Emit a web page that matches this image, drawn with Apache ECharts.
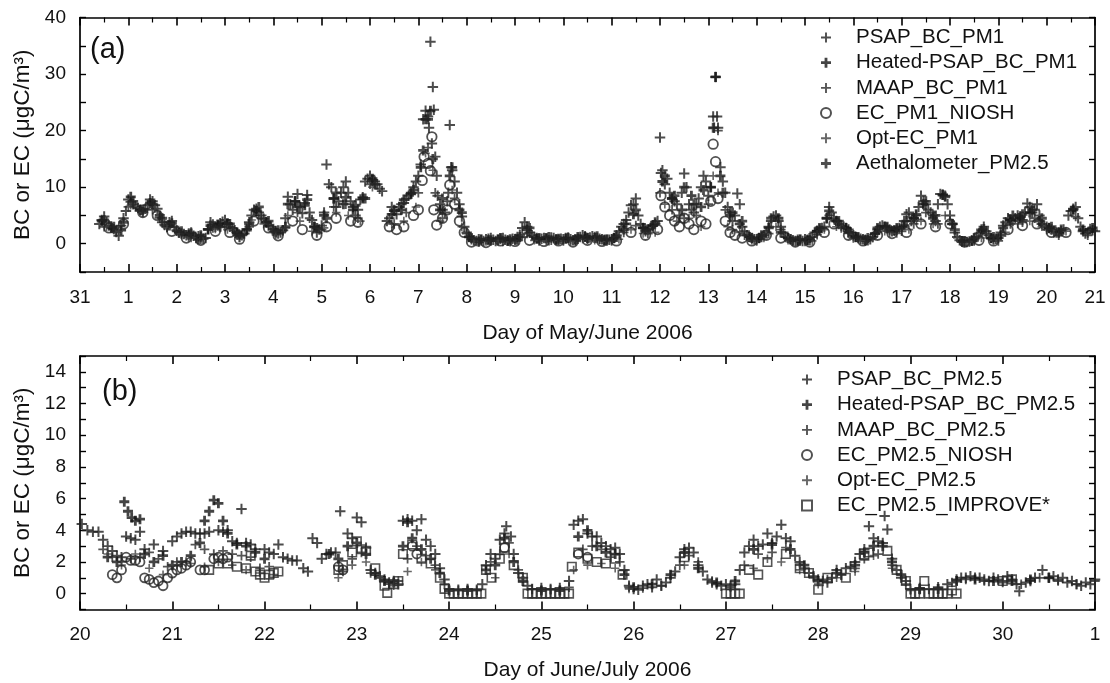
<!DOCTYPE html>
<html><head><meta charset="utf-8">
<script src="https://cdn.jsdelivr.net/npm/echarts@6/dist/echarts.min.js"></script>
<style>html,body{margin:0;padding:0;background:#fff}#c{width:1110px;height:683px}</style>
</head><body><div id="c"></div>
<script>
// ---------- Panel (a): days since May 31 (0 = May 31, 1 = June 1 ...) ----------
const xTicksA = ['31','1','2','3','4','5','6','7','8','9','10','11','12','13','14','15','16','17','18','19','20','21'];
const namesA = ['PSAP_BC_PM1','Heated-PSAP_BC_PM1','MAAP_BC_PM1','EC_PM1_NIOSH','Opt-EC_PM1','Aethalometer_PM2.5'];
const psapPM1 = [[0.4,3.5],[0.5,4.8],[0.6,3.2],[0.7,2.6],[0.8,1.4],[0.9,4.5],[1.0,7.8],[1.1,7.0],[1.2,6.3],[1.3,5.6],[1.4,6.8],[1.5,7.5],[1.6,6.2],[1.7,3.8],[1.8,3.0],[1.9,4.0],[2.0,2.4],[2.1,1.8],[2.2,1.5],[2.3,2.0],[2.4,1.0],[2.5,1.2],[2.6,1.0],[2.7,3.8],[2.8,3.0],[2.9,3.6],[3.0,4.2],[3.1,3.0],[3.2,2.4],[3.3,1.2],[3.4,1.8],[3.5,3.8],[3.6,6.0],[3.7,5.5],[3.8,4.4],[3.9,3.2],[4.0,2.6],[4.1,1.8],[4.2,2.4],[4.3,8.3],[4.4,6.0],[4.5,8.8],[4.6,5.4],[4.7,8.6],[4.8,4.2],[4.9,2.0],[5.0,3.2],[5.1,14.0],[5.2,10.0],[5.3,6.5],[5.4,9.0],[5.5,11.0],[5.6,7.5],[5.7,5.0],[5.8,7.8],[5.9,11.0],[6.0,12.0],[6.1,11.0],[6.2,9.7],[6.4,4.5],[6.5,5.8],[6.6,6.5],[6.7,7.2],[6.8,8.5],[6.9,10.0],[7.0,12.0],[7.1,22.0],[7.2,22.5],[7.25,35.7],[7.3,27.7],[7.35,15.4],[7.4,8.5],[7.5,6.0],[7.6,7.5],[7.65,21.0],[7.7,13.0],[7.8,9.0],[7.9,4.8],[8.0,2.0],[8.1,0.8],[8.2,0.5],[8.3,0.6],[8.4,0.8],[8.5,1.0],[8.6,0.5],[8.7,0.9],[8.8,0.7],[8.9,0.5],[9.0,0.8],[9.1,1.6],[9.2,3.8],[9.3,2.0],[9.4,1.2],[9.5,0.8],[9.6,1.0],[9.7,0.6],[9.8,1.0],[9.9,0.7],[10.0,0.8],[10.1,1.1],[10.2,0.6],[10.3,0.9],[10.4,1.5],[10.5,1.0],[10.6,1.3],[10.7,1.0],[10.8,0.8],[10.9,0.6],[11.0,0.8],[11.1,1.5],[11.2,3.0],[11.3,4.2],[11.4,6.8],[11.5,8.0],[11.6,3.5],[11.7,2.2],[11.8,2.8],[11.9,3.5],[12.0,18.8],[12.05,13.0],[12.1,10.5],[12.2,9.0],[12.3,7.5],[12.4,5.0],[12.5,12.4],[12.6,7.0],[12.7,5.5],[12.8,8.0],[12.9,12.0],[13.0,8.5],[13.1,22.5],[13.15,29.5],[13.2,20.5],[13.3,11.0],[13.4,6.5],[13.5,4.0],[13.6,8.9],[13.7,3.0],[13.8,1.5],[13.9,1.0],[14.0,0.8],[14.1,1.2],[14.2,2.0],[14.3,4.0],[14.4,5.0],[14.5,3.0],[14.6,1.2],[14.7,0.8],[14.8,0.5],[14.9,0.6],[15.0,0.8],[15.1,0.6],[15.2,2.0],[15.3,2.5],[15.4,3.0],[15.5,6.5],[15.6,4.5],[15.7,3.5],[15.8,3.0],[15.9,2.5],[16.0,1.5],[16.1,1.0],[16.2,0.8],[16.3,0.6],[16.4,1.2],[16.5,2.5],[16.6,3.2],[16.7,2.8],[16.8,2.2],[16.9,2.5],[17.0,3.0],[17.1,5.2],[17.2,4.0],[17.3,5.0],[17.4,8.5],[17.5,7.0],[17.6,5.5],[17.7,4.0],[17.8,8.8],[17.9,8.5],[18.0,5.0],[18.1,2.0],[18.2,0.6],[18.3,0.3],[18.4,0.4],[18.5,0.8],[18.6,1.8],[18.7,3.0],[18.8,1.5],[18.9,0.8],[19.0,1.0],[19.1,3.2],[19.2,4.5],[19.3,4.0],[19.4,5.0],[19.5,4.2],[19.6,7.1],[19.7,5.5],[19.8,7.0],[19.9,3.5],[20.0,3.0],[20.1,2.5],[20.2,2.0],[20.3,2.2],[20.5,5.8],[20.6,6.5],[20.7,3.0],[20.8,1.8],[20.9,2.6],[21.0,2.2]];
const psapPM1Half = [[0.45,4.2],[0.55,3.8],[0.65,3.0],[0.75,2.2],[0.85,3.2],[0.95,5.8],[1.05,7.4],[1.15,6.6],[1.25,6.0],[1.35,6.2],[1.45,7.8],[1.55,6.8],[1.65,4.6],[1.75,3.4],[1.85,3.8],[1.95,3.0],[2.05,2.0],[2.15,1.7],[2.25,1.8],[2.35,1.4],[2.45,1.3],[2.55,0.9],[2.65,2.6],[2.75,3.4],[2.85,3.2],[2.95,3.9],[3.05,3.5],[3.15,2.8],[3.25,1.8],[3.35,1.5],[3.45,2.6],[3.55,5.0],[3.65,6.2],[3.75,5.0],[3.85,3.8],[3.95,3.0],[4.05,2.2],[4.15,2.0],[4.25,4.5],[4.35,7.0],[4.45,7.5],[4.55,6.5],[4.65,7.2],[4.75,5.5],[4.85,3.0],[4.95,2.5],[5.05,5.5],[5.15,10.5],[5.25,8.0],[5.35,7.5],[5.45,10.0],[5.55,9.0],[5.65,6.5],[5.75,6.0],[5.85,8.2],[5.95,11.5],[6.05,11.2],[6.15,10.5],[6.25,9.3],[6.35,4.0],[6.45,6.5],[6.55,5.2],[6.65,7.0],[6.75,8.0],[6.85,9.0],[6.95,11.0],[7.05,14.0],[7.15,23.5],[7.22,20.5],[7.28,17.7],[7.32,23.7],[7.38,12.0],[7.45,7.0],[7.55,5.5],[7.62,9.0],[7.68,13.5],[7.75,11.0],[7.85,7.0],[7.95,3.0],[8.05,1.2],[8.15,0.6],[8.25,0.8],[8.35,0.5],[8.45,0.9],[8.55,0.7],[8.65,0.6],[8.75,1.0],[8.85,0.6],[8.95,0.9],[9.05,1.2],[9.15,2.8],[9.25,3.0],[9.35,1.5],[9.45,1.0],[9.55,0.9],[9.65,0.8],[9.75,1.1],[9.85,0.8],[9.95,0.9],[10.05,1.0],[10.15,0.8],[10.25,0.7],[10.35,1.2],[10.45,1.3],[10.55,1.1],[10.65,1.2],[10.75,0.9],[10.85,0.7],[10.95,0.7],[11.05,1.0],[11.15,2.2],[11.25,3.5],[11.35,5.5],[11.45,7.0],[11.55,5.0],[11.65,2.8],[11.75,2.5],[11.85,3.2],[11.95,4.0],[12.02,12.5],[12.15,11.5],[12.25,8.0],[12.35,7.0],[12.45,9.0],[12.55,10.0],[12.65,6.0],[12.75,7.0],[12.85,10.0],[12.95,11.0],[13.05,10.0],[13.12,20.5],[13.18,22.5],[13.25,13.5],[13.35,9.0],[13.45,5.5],[13.55,5.0],[13.65,7.0],[13.75,2.2],[13.85,1.2],[13.95,0.8],[14.05,1.0],[14.15,1.5],[14.25,3.0],[14.35,4.8],[14.45,4.0],[14.55,2.0],[14.65,1.0],[14.75,0.6],[14.85,0.7],[14.95,0.5],[15.05,0.7],[15.15,1.2],[15.25,2.3],[15.35,2.8],[15.45,4.5],[15.55,5.5],[15.65,4.0],[15.75,3.2],[15.85,2.8],[15.95,2.0],[16.05,1.2],[16.15,0.9],[16.25,0.7],[16.35,0.8],[16.45,1.8],[16.55,3.0],[16.65,3.0],[16.75,2.5],[16.85,2.3],[16.95,2.8],[17.05,4.0],[17.15,5.5],[17.25,4.5],[17.35,6.5],[17.45,7.5],[17.55,6.0],[17.65,5.0],[17.75,7.0],[17.85,8.7],[17.95,7.0],[18.05,3.5],[18.15,1.2],[18.25,0.4],[18.35,0.3],[18.45,0.6],[18.55,1.2],[18.65,2.5],[18.75,2.2],[18.85,1.0],[18.95,0.9],[19.05,2.0],[19.15,3.8],[19.25,4.2],[19.35,4.5],[19.45,4.8],[19.55,5.5],[19.65,6.5],[19.75,6.0],[19.85,5.0],[19.95,3.2],[20.05,2.8],[20.15,2.2],[20.25,2.0],[20.35,2.5],[20.45,5.0],[20.55,6.2],[20.65,4.5],[20.75,2.2],[20.85,2.0],[20.95,2.4]];
const heatedPM1 = [[0.45,4.0],[0.65,2.8],[0.85,2.4],[1.05,8.3],[1.25,6.0],[1.45,7.2],[1.65,5.0],[1.85,3.2],[2.05,2.0],[2.25,1.6],[2.45,0.8],[2.65,2.5],[2.85,3.4],[3.05,3.6],[3.25,2.0],[3.45,2.4],[3.65,5.8],[3.85,3.8],[4.05,2.0],[4.25,3.0],[4.45,7.5],[4.65,6.8],[4.85,3.0],[5.05,5.0],[5.25,8.0],[5.45,7.0],[5.65,6.0],[5.85,8.0],[6.05,11.5],[6.45,5.2],[6.65,6.0],[6.85,8.8],[7.05,13.5],[7.15,22.0],[7.25,23.5],[7.45,6.0],[7.65,12.0],[7.85,6.0],[8.05,1.2],[8.25,0.4],[8.45,0.6],[8.65,0.8],[8.85,0.5],[9.05,0.7],[9.25,2.5],[9.45,0.9],[9.65,1.0],[9.85,0.7],[10.05,0.9],[10.25,0.8],[10.45,1.2],[10.65,1.0],[10.85,0.6],[11.05,1.0],[11.25,2.5],[11.45,5.2],[11.65,2.8],[11.85,3.2],[12.05,11.0],[12.25,8.0],[12.45,6.0],[12.65,8.5],[12.85,6.5],[13.05,10.0],[13.15,29.5],[13.25,12.0],[13.45,5.0],[13.65,3.5],[13.85,1.2],[14.05,1.0],[14.25,2.8],[14.45,4.5],[14.65,1.0],[14.85,0.5],[15.05,0.6],[15.25,2.2],[15.45,4.5],[15.65,4.0],[15.85,2.8],[16.05,1.2],[16.25,0.6],[16.45,1.8],[16.65,3.0],[16.85,2.4],[17.05,3.2],[17.25,4.5],[17.45,7.0],[17.65,4.5],[17.85,8.6],[18.05,3.5],[18.25,0.5],[18.45,0.5],[18.65,2.2],[18.85,1.0],[19.05,1.5],[19.25,4.2],[19.45,4.5],[19.65,5.5],[19.85,4.0],[20.05,2.8],[20.25,2.0],[20.55,6.0],[20.75,2.5],[20.95,2.8]];
const maapPM1 = [[0.5,3.0],[0.75,2.0],[1.0,6.5],[1.25,5.8],[1.5,6.0],[1.75,3.2],[2.0,2.2],[2.25,1.2],[2.5,0.8],[2.75,2.8],[3.0,3.0],[3.25,1.5],[3.5,3.0],[3.75,4.5],[4.0,2.2],[4.25,2.8],[4.5,5.5],[4.75,4.5],[5.0,2.5],[5.25,6.5],[5.5,7.0],[5.75,4.5],[6.0,10.5],[6.5,3.5],[6.75,5.5],[7.0,9.0],[7.2,17.0],[7.35,9.0],[7.5,4.5],[7.75,8.0],[8.0,1.8],[8.25,0.3],[8.5,0.5],[8.75,0.4],[9.0,0.6],[9.25,1.8],[9.5,0.5],[9.75,0.6],[10.0,0.5],[10.25,0.5],[10.5,0.8],[10.75,0.7],[11.0,0.5],[11.25,2.0],[11.5,3.2],[11.75,1.8],[12.0,9.0],[12.25,6.0],[12.5,4.5],[12.75,5.0],[13.0,7.0],[13.2,20.0],[13.35,6.0],[13.5,2.5],[13.75,1.5],[14.0,0.5],[14.25,1.8],[14.5,2.5],[14.75,0.5],[15.0,0.4],[15.25,1.6],[15.5,5.0],[15.75,2.8],[16.0,1.0],[16.25,0.5],[16.5,2.0],[16.75,2.0],[17.0,2.2],[17.25,3.5],[17.5,5.5],[17.75,3.5],[18.0,4.0],[18.25,0.3],[18.5,0.5],[18.75,1.8],[19.0,0.5],[19.25,3.5],[19.5,3.8],[19.75,4.5],[20.0,2.5],[20.25,1.5],[20.6,4.8],[20.85,1.5]];
const nioshPM1 = [[0.6,2.8],[0.9,3.5],[1.3,5.5],[1.6,5.0],[1.9,2.2],[2.2,1.0],[2.5,0.6],[2.8,2.2],[3.1,2.0],[3.3,0.8],[3.6,4.0],[3.9,2.8],[4.1,1.4],[4.4,4.0],[4.6,2.5],[4.9,1.5],[5.1,3.0],[5.3,4.5],[5.6,4.0],[5.75,3.8],[6.4,3.0],[6.55,2.5],[6.7,3.0],[6.9,5.0],[7.0,6.0],[7.08,11.2],[7.12,15.4],[7.2,14.2],[7.25,12.9],[7.28,18.9],[7.32,6.0],[7.38,3.3],[7.5,4.5],[7.6,6.0],[7.65,10.4],[7.75,7.0],[7.85,4.0],[7.95,2.0],[8.1,0.3],[8.4,0.2],[8.7,0.5],[9.0,0.4],[9.3,0.6],[9.6,0.4],[9.9,0.5],[10.2,0.3],[10.5,0.6],[10.8,0.4],[11.1,0.5],[11.4,2.0],[11.7,1.5],[11.95,2.5],[12.02,8.5],[12.1,6.5],[12.2,5.0],[12.3,4.0],[12.4,3.0],[12.5,4.5],[12.6,3.5],[12.7,2.5],[12.85,4.0],[12.95,3.5],[13.05,7.5],[13.1,17.6],[13.15,14.5],[13.2,8.0],[13.35,4.0],[13.45,2.0],[13.55,1.5],[13.7,1.0],[13.9,0.5],[14.2,1.5],[14.5,1.0],[14.8,0.3],[15.1,0.3],[15.4,2.0],[15.6,3.5],[15.9,1.5],[16.2,0.5],[16.5,1.5],[16.8,1.8],[17.1,2.0],[17.4,3.5],[17.7,3.0],[18.0,3.5],[18.3,0.3],[18.6,0.6],[18.9,0.5],[19.2,2.5],[19.5,3.2],[19.8,3.5],[20.1,2.0],[20.4,2.0]];
const optecPM1 = [[0.55,3.0],[0.8,2.2],[1.05,6.8],[1.3,5.5],[1.55,6.2],[1.8,2.8],[2.05,1.8],[2.3,1.0],[2.55,1.0],[2.8,2.6],[3.05,2.5],[3.3,1.0],[3.55,4.2],[3.8,3.5],[4.05,1.6],[4.3,5.0],[4.55,4.0],[4.8,2.2],[5.05,2.8],[5.3,5.5],[5.55,5.0],[5.8,4.0],[6.05,10.0],[6.45,3.5],[6.7,4.0],[6.95,6.5],[7.15,16.0],[7.3,13.0],[7.45,4.0],[7.7,9.5],[7.9,3.0],[8.15,0.5],[8.4,0.4],[8.65,0.6],[8.9,0.3],[9.15,1.2],[9.4,0.6],[9.65,0.5],[9.9,0.6],[10.15,0.4],[10.4,0.8],[10.65,0.6],[10.9,0.4],[11.15,0.8],[11.4,2.5],[11.65,1.8],[11.9,2.0],[12.1,7.0],[12.35,4.0],[12.6,4.5],[12.85,3.0],[13.1,12.0],[13.2,9.0],[13.4,3.0],[13.65,2.0],[13.9,0.6],[14.15,1.0],[14.4,3.0],[14.65,0.6],[14.9,0.4],[15.15,0.5],[15.4,2.5],[15.65,3.0],[15.9,1.8],[16.15,0.6],[16.4,1.0],[16.65,2.2],[16.9,1.8],[17.15,2.5],[17.4,4.0],[17.65,3.5],[17.9,5.0],[18.15,1.0],[18.4,0.3],[18.65,1.0],[18.9,0.6],[19.15,2.0],[19.4,3.5],[19.65,4.0],[19.9,3.0],[20.15,1.8],[20.4,2.2]];
const aethPM25 = [[0.5,4.2],[0.7,3.0],[0.9,3.8],[1.1,7.5],[1.3,6.0],[1.5,7.0],[1.7,4.5],[1.9,3.6],[2.1,2.2],[2.3,1.8],[2.5,1.5],[2.7,3.2],[2.9,3.0],[3.1,3.5],[3.3,1.6],[3.5,3.5],[3.7,6.5],[3.9,4.0],[4.1,2.4],[4.3,7.0],[4.5,6.5],[4.7,7.8],[4.9,2.8],[5.1,4.5],[5.3,9.0],[5.5,8.2],[5.7,6.8],[5.9,8.0],[6.1,10.5],[6.5,6.0],[6.7,7.8],[6.9,9.5],[7.1,16.5],[7.2,22.0],[7.3,15.0],[7.5,8.0],[7.7,13.5],[7.9,5.5],[8.1,1.0],[8.3,0.8],[8.5,0.6],[8.7,1.0],[8.9,0.8],[9.1,1.2],[9.3,2.8],[9.5,1.0],[9.7,1.2],[9.9,0.9],[10.1,1.0],[10.3,1.2],[10.5,1.0],[10.7,1.3],[10.9,0.8],[11.1,1.2],[11.3,3.5],[11.5,6.0],[11.7,2.5],[11.9,3.8],[12.1,12.0],[12.3,8.5],[12.5,10.0],[12.7,7.0],[12.9,9.5],[13.1,20.5],[13.3,9.0],[13.5,5.5],[13.7,4.0],[13.9,1.0],[14.1,1.5],[14.3,4.5],[14.5,2.0],[14.7,0.8],[14.9,0.8],[15.1,1.0],[15.3,2.8],[15.5,5.8],[15.7,4.0],[15.9,2.0],[16.1,1.2],[16.3,1.0],[16.5,2.8],[16.7,3.0],[16.9,2.8],[17.1,4.0],[17.3,5.2],[17.5,7.5],[17.7,5.0],[17.9,8.3],[18.1,2.5],[18.3,0.5],[18.5,1.0],[18.7,2.6],[18.9,1.2],[19.1,2.8],[19.3,5.0],[19.5,5.2],[19.7,6.0],[19.9,4.5],[20.1,3.0],[20.3,2.5]];

// ---------- Panel (b): June day number (31 = July 1) ----------
const xTicksB = ['20','21','22','23','24','25','26','27','28','29','30','1'];
const namesB = ['PSAP_BC_PM2.5','Heated-PSAP_BC_PM2.5','MAAP_BC_PM2.5','EC_PM2.5_NIOSH','Opt-EC_PM2.5','EC_PM2.5_IMPROVE*'];
const psapPM25 = [[20.02,4.4],[20.08,4.0],[20.14,3.9],[20.2,3.9],[20.25,3.4],[20.3,3.0],[20.35,2.7],[20.4,2.4],[20.45,2.3],[20.5,3.6],[20.55,3.5],[20.6,3.4],[20.65,3.9],[20.7,2.8],[20.8,3.1],[20.9,2.7],[21.0,3.3],[21.05,3.6],[21.1,3.8],[21.15,3.9],[21.2,3.9],[21.25,3.8],[21.3,3.8],[21.35,3.8],[21.4,3.9],[21.5,4.0],[21.55,3.9],[21.6,4.0],[21.65,3.3],[21.7,3.2],[21.75,5.35],[21.8,3.2],[21.85,3.1],[21.9,2.8],[22.0,2.8],[22.05,2.6],[22.1,2.5],[22.15,3.1],[22.2,2.3],[22.25,2.2],[22.3,2.1],[22.35,2.1],[22.42,1.6],[22.47,1.4],[22.52,3.5],[22.57,3.2],[22.62,2.2],[22.67,2.5],[22.72,2.6],[22.77,2.6],[22.82,5.2],[22.9,3.8],[22.95,3.5],[23.0,4.8],[23.05,4.5],[23.1,2.9],[23.15,1.5],[23.2,1.3],[23.25,1.1],[23.3,0.9],[23.35,0.7],[23.4,0.8],[23.45,0.6],[23.5,4.6],[23.55,4.7],[23.6,4.6],[23.65,4.0],[23.7,4.7],[23.75,3.4],[23.8,3.0],[23.85,2.5],[23.9,1.6],[23.95,0.9],[24.0,0.3],[24.1,0.25],[24.2,0.3],[24.3,0.25],[24.36,0.6],[24.4,1.8],[24.45,2.5],[24.5,2.2],[24.55,3.4],[24.6,3.8],[24.62,4.25],[24.67,3.6],[24.7,2.5],[24.75,1.3],[24.8,1.0],[24.85,0.5],[24.9,0.3],[25.0,0.35],[25.1,0.3],[25.2,0.35],[25.3,0.8],[25.35,4.35],[25.4,4.6],[25.45,4.7],[25.5,3.8],[25.55,3.6],[25.6,3.6],[25.65,3.2],[25.7,3.0],[25.75,2.8],[25.8,2.9],[25.85,2.5],[25.9,1.5],[25.95,0.5],[26.0,0.3],[26.05,0.25],[26.1,0.5],[26.15,0.6],[26.2,0.4],[26.25,0.9],[26.3,0.5],[26.35,0.7],[26.4,1.0],[26.45,1.4],[26.5,2.3],[26.55,2.8],[26.6,2.9],[26.65,2.6],[26.7,1.8],[26.75,1.4],[26.8,0.9],[26.85,0.7],[26.9,0.6],[26.95,0.5],[27.0,0.6],[27.05,0.5],[27.1,0.6],[27.15,1.5],[27.2,2.6],[27.25,3.0],[27.3,3.4],[27.35,3.0],[27.4,3.1],[27.45,3.8],[27.5,3.2],[27.55,3.6],[27.6,4.35],[27.65,3.5],[27.7,3.3],[27.75,2.4],[27.8,2.0],[27.85,1.6],[27.9,1.3],[27.95,1.1],[28.0,0.9],[28.05,0.8],[28.1,0.7],[28.15,1.0],[28.2,1.5],[28.25,1.2],[28.3,1.6],[28.35,1.7],[28.4,2.0],[28.45,2.5],[28.5,2.8],[28.55,4.25],[28.6,3.5],[28.65,3.3],[28.7,3.2],[28.72,4.9],[28.75,4.05],[28.8,2.2],[28.85,1.5],[28.9,1.0],[28.95,0.8],[29.0,0.3],[29.1,0.35],[29.2,0.3],[29.3,0.4],[29.4,0.6],[29.5,0.9],[29.55,1.0],[29.6,1.0],[29.65,1.1],[29.7,1.0],[29.75,1.0],[29.8,0.9],[29.85,0.8],[29.9,1.0],[29.95,0.9],[30.0,0.8],[30.05,1.1],[30.1,0.9],[30.15,0.6],[30.18,0.15],[30.25,0.7],[30.3,0.8],[30.35,1.0],[30.43,1.5],[30.5,1.0],[30.55,1.1],[30.6,0.9],[30.65,1.0],[30.7,0.7],[30.75,0.8],[30.8,0.6],[30.85,0.5],[30.9,0.7],[30.95,0.6],[31.0,0.9]];
const heatedPM25 = [[20.3,2.3],[20.4,2.0],[20.48,5.8],[20.52,5.2],[20.56,4.8],[20.6,4.6],[20.65,4.7],[20.7,2.5],[20.8,2.0],[20.9,2.4],[21.0,1.8],[21.1,2.0],[21.2,2.4],[21.3,3.2],[21.35,4.6],[21.4,5.2],[21.45,5.9],[21.5,5.7],[21.55,4.6],[21.6,3.8],[21.7,3.1],[21.8,3.0],[21.9,2.6],[22.0,2.2],[22.7,2.5],[22.8,2.2],[22.9,3.0],[23.0,3.2],[23.1,2.5],[23.2,1.2],[23.3,0.8],[23.4,0.7],[23.5,3.0],[23.55,4.5],[23.6,3.5],[23.7,2.8],[23.8,2.2],[23.9,1.3],[24.0,0.2],[24.2,0.2],[24.4,1.5],[24.5,1.8],[24.6,3.5],[24.7,2.0],[24.8,0.8],[25.0,0.2],[25.2,0.2],[25.4,3.6],[25.5,4.0],[25.6,3.0],[25.7,2.6],[25.8,2.5],[25.9,1.2],[26.0,0.4],[26.2,0.6],[26.4,1.2],[26.55,2.6],[26.7,1.6],[26.9,0.7],[27.1,0.8],[27.3,2.8],[27.5,3.1],[27.7,2.8],[27.85,1.8],[28.0,0.8],[28.2,1.3],[28.4,1.8],[28.5,2.6],[28.6,3.0],[28.7,3.0],[28.8,2.0],[28.9,1.2],[29.1,0.3],[29.3,0.3],[29.5,0.8],[29.7,0.9],[29.9,0.8],[30.1,0.8],[30.3,0.9],[30.5,1.0]];
const maapPM25 = [[20.25,2.8],[20.35,2.3],[20.45,2.0],[20.55,2.2],[20.65,2.3],[20.75,2.6],[20.85,2.2],[20.95,1.7],[21.05,2.0],[21.15,2.0],[21.25,3.1],[21.35,2.8],[21.45,2.5],[21.55,2.7],[21.65,2.5],[21.75,2.4],[21.85,2.3],[21.95,1.6],[22.05,1.7],[22.85,1.4],[22.95,2.2],[23.05,2.6],[23.15,1.3],[23.25,1.0],[23.35,0.6],[23.45,0.8],[23.55,2.2],[23.65,3.0],[23.75,2.4],[23.85,1.8],[23.95,0.6],[24.1,0.2],[24.3,0.2],[24.45,2.0],[24.55,2.5],[24.65,3.2],[24.75,1.5],[24.9,0.3],[25.1,0.25],[25.3,0.4],[25.45,2.8],[25.55,3.0],[25.65,2.8],[25.75,2.3],[25.85,2.0],[25.95,0.4],[26.1,0.35],[26.3,0.5],[26.5,1.8],[26.6,2.4],[26.7,2.0],[26.85,0.8],[27.05,0.4],[27.2,1.8],[27.35,2.5],[27.5,2.6],[27.65,2.9],[27.8,1.8],[27.95,1.0],[28.1,0.9],[28.25,1.2],[28.4,1.6],[28.5,2.2],[28.65,2.5],[28.8,1.8],[28.95,0.6],[29.1,0.25],[29.3,0.3],[29.45,0.7],[29.6,0.9],[29.8,0.8],[30.0,0.7],[30.2,0.6],[30.4,1.0],[30.6,0.8],[30.8,0.6],[31.0,0.8]];
const nioshPM25 = [[20.35,1.2],[20.4,1.0],[20.45,1.5],[20.5,2.3],[20.55,2.1],[20.6,2.1],[20.65,2.0],[20.7,1.0],[20.75,0.9],[20.8,0.7],[20.85,0.8],[20.9,0.5],[20.95,1.0],[21.0,1.3],[21.05,1.5],[21.1,1.6],[21.15,1.8],[21.2,2.0],[21.3,1.5],[21.35,1.5],[21.45,2.2],[21.5,2.3],[21.55,2.2],[21.6,2.3],[22.8,1.7],[22.85,1.5],[23.6,3.0],[23.65,2.5],[24.6,2.9],[25.4,2.5],[25.5,2.3]];
const optecPM25 = [[20.3,2.5],[20.45,1.8],[20.6,2.5],[20.75,1.6],[20.9,1.2],[21.05,1.8],[21.2,1.9],[21.35,1.7],[21.5,2.0],[21.65,1.8],[21.8,1.5],[21.95,1.3],[22.1,1.2],[22.8,1.0],[22.95,1.8],[23.1,2.0],[23.25,1.0],[23.4,0.5],[23.55,1.4],[23.7,2.0],[23.85,1.5],[24.0,0.3],[24.5,1.0],[24.65,2.5],[24.8,1.0],[25.35,1.5],[25.5,1.8],[25.65,1.9],[25.8,1.6],[25.95,0.3],[26.55,1.8],[27.3,1.6],[27.45,2.2],[27.6,2.0],[27.8,1.5],[28.0,0.6],[28.2,1.0],[28.4,1.4],[28.6,2.4],[28.8,1.6],[29.0,0.2]];
const improvePM25 = [[21.4,1.5],[21.5,1.9],[21.6,1.9],[21.7,1.7],[21.8,1.6],[21.85,2.4],[21.9,1.4],[21.95,1.2],[22.0,1.0],[22.05,1.2],[22.1,1.3],[22.15,1.4],[22.8,1.5],[22.85,1.8],[22.95,2.6],[23.0,3.3],[23.05,2.8],[23.1,2.7],[23.2,1.6],[23.3,0.5],[23.33,0.05],[23.4,0.6],[23.45,0.8],[23.5,2.5],[23.6,3.1],[23.7,2.2],[23.8,1.9],[23.9,1.0],[23.95,0.3],[24.0,0],[24.05,0],[24.1,0],[24.15,0],[24.2,0],[24.25,0],[24.3,0],[24.35,0],[24.4,1.5],[24.46,1.0],[24.55,2.2],[24.6,2.9],[24.7,1.8],[24.8,1.0],[24.85,0],[24.9,0],[24.95,0],[25.0,0],[25.05,0],[25.1,0],[25.15,0],[25.2,0],[25.25,0],[25.3,0],[25.33,1.7],[25.4,2.6],[25.5,2.2],[25.6,2.0],[25.7,1.9],[25.8,2.2],[25.88,1.2],[26.55,2.3],[27.0,0],[27.05,0],[27.1,0],[27.15,0],[27.25,1.5],[27.35,1.2],[27.45,2.0],[27.65,2.5],[27.8,1.6],[27.9,1.3],[28.0,0.25],[28.1,1.0],[28.3,1.0],[28.5,2.4],[28.55,2.6],[28.75,2.7],[28.85,1.5],[28.95,0.8],[29.0,0],[29.05,0],[29.1,0],[29.15,0.8],[29.2,0],[29.25,0],[29.3,0],[29.35,0],[29.4,0],[29.45,0.2],[29.5,0],[30.0,0.8],[30.1,0.9]];

const FONT = '"Liberation Sans", Arial, Helvetica, sans-serif';
const PLUS_THIN = 'path://M4.05,0H5.95V4.05H10V5.95H5.95V10H4.05V5.95H0V4.05H4.05Z';
const PLUS_BOLD = 'path://M3.6,0H6.4V3.6H10V6.4H6.4V10H3.6V6.4H0V3.6H3.6Z';
const SQUARE = 'path://M0,0H10V10H0Z';

function sc(name, data, idx, kind, color, size) {
  const s = {name, type:'scatter', xAxisIndex: idx*2, yAxisIndex: idx*2, data, symbolSize:size, animation:false};
  if (kind === 'thin') { s.symbol = PLUS_THIN; s.itemStyle = {color, borderWidth:0}; }
  else if (kind === 'bold') { s.symbol = PLUS_BOLD; s.itemStyle = {color, borderWidth:0}; }
  else if (kind === 'circle') { s.symbol = 'circle'; s.itemStyle = {color:'rgba(0,0,0,0)', borderColor:color, borderWidth:1.8}; }
  else { s.symbol = SQUARE; s.itemStyle = {color:'rgba(0,0,0,0)', borderColor:color, borderWidth:1.6}; }
  return s;
}

function xAx(grid, min, max, labels, pos, show) {
  return {type:'value', gridIndex:grid, position:pos, min, max, interval:1,
    axisLine:{show:true, onZero:false, lineStyle:{color:'#000', width:1.7}},
    axisTick:{show:true, inside:true, length:8, lineStyle:{color:'#000', width:1.6}},
    minorTick:{show:true, splitNumber:2, length:5, lineStyle:{color:'#000', width:1.2}},
    splitLine:{show:false}, minorSplitLine:{show:false},
    axisLabel:{show:show, margin:16, color:'#111', fontSize:19, fontFamily:FONT,
      formatter: v => labels[Math.round(v - min)]}};
}
function yAx(grid, min, max, step, pos, show) {
  return {type:'value', gridIndex:grid, position:pos, min, max, interval:step,
    axisLine:{show:true, onZero:false, lineStyle:{color:'#000', width:1.7}},
    axisTick:{show:true, inside:true, length:6, lineStyle:{color:'#000', width:1.4}},
    splitLine:{show:false},
    axisLabel:{show:show, margin:14, color:'#111', fontSize:19, fontFamily:FONT,
      formatter: v => (v >= 0 && v % (step*2) === 0) ? String(v) : ''}};
}

const xA = xAx(0, 0, 21, xTicksA, 'bottom', true);
xA.name = 'Day of May/June 2006'; xA.nameLocation = 'middle'; xA.nameGap = 51;
xA.nameTextStyle = {fontSize:21, color:'#111', fontFamily:FONT};
const xB = xAx(1, 20, 31, xTicksB, 'bottom', true);
xB.name = 'Day of June/July 2006'; xB.nameLocation = 'middle'; xB.nameGap = 50;
xB.nameTextStyle = {fontSize:21, color:'#111', fontFamily:FONT};
const yA = yAx(0, -5, 40, 5, 'left', true);
const yB = yAx(1, -1, 15, 1, 'left', true);
[yA, yB].forEach(a => { a.name = 'BC or EC (\u03bcgC/m\u00b3)'; a.nameLocation = 'middle'; a.nameGap = 44;
  a.nameTextStyle = {fontSize:22.5, color:'#111', fontFamily:FONT}; });

const legendBase = {orient:'vertical', padding:0, itemGap:4.2, itemWidth:10, itemHeight:10,
  textStyle:{fontSize:20.5, lineHeight:20, color:'#111', fontFamily:FONT, padding:[0,0,0,20]},
  selectedMode:false};

const option = {
  backgroundColor:'#fff',
  animation:false,
  title:[
    {text:'(a)', left:85, top:30, textStyle:{fontSize:29, fontWeight:'normal', color:'#111', fontFamily:FONT}},
    {text:'(b)', left:97, top:372, textStyle:{fontSize:29, fontWeight:'normal', color:'#111', fontFamily:FONT}}
  ],
  legend:[
    Object.assign({}, legendBase, {data:namesA, left:820, top:27}),
    Object.assign({}, legendBase, {data:namesB, left:801, top:369})
  ],
  grid:[
    {left:80, right:15, top:17.5, height:254.5},
    {left:80, right:15, top:356, height:253.5}
  ],
  xAxis:[xA, xAx(0, 0, 21, xTicksA, 'top', false), xB, xAx(1, 20, 31, xTicksB, 'top', false)],
  yAxis:[yA, yAx(0, -5, 40, 5, 'right', false), yB, yAx(1, -1, 15, 1, 'right', false)],
  series:[
    sc(namesA[0], psapPM1.concat(psapPM1Half), 0, 'thin', '#202020', 10.5),
    sc(namesA[1], heatedPM1, 0, 'bold', '#151515', 10),
    sc(namesA[2], maapPM1, 0, 'thin', '#2a2a2a', 9.5),
    sc(namesA[4], optecPM1, 0, 'thin', '#404040', 8.5),
    sc(namesA[5], aethPM25, 0, 'bold', '#222', 10),
    sc(namesA[3], nioshPM1, 0, 'circle', '#262626', 9.5),
    sc(namesB[0], psapPM25, 1, 'thin', '#1e1e1e', 10.5),
    sc(namesB[1], heatedPM25, 1, 'bold', '#151515', 10),
    sc(namesB[2], maapPM25, 1, 'thin', '#2a2a2a', 9.5),
    sc(namesB[4], optecPM25, 1, 'thin', '#404040', 8.5),
    sc(namesB[3], nioshPM25, 1, 'circle', '#262626', 9),
    sc(namesB[5], improvePM25, 1, 'square', '#2a2a2a', 8.5)
  ]
};
const chart = echarts.init(document.getElementById('c'), null, {renderer:'canvas'});
chart.setOption(option);
</script></body></html>
